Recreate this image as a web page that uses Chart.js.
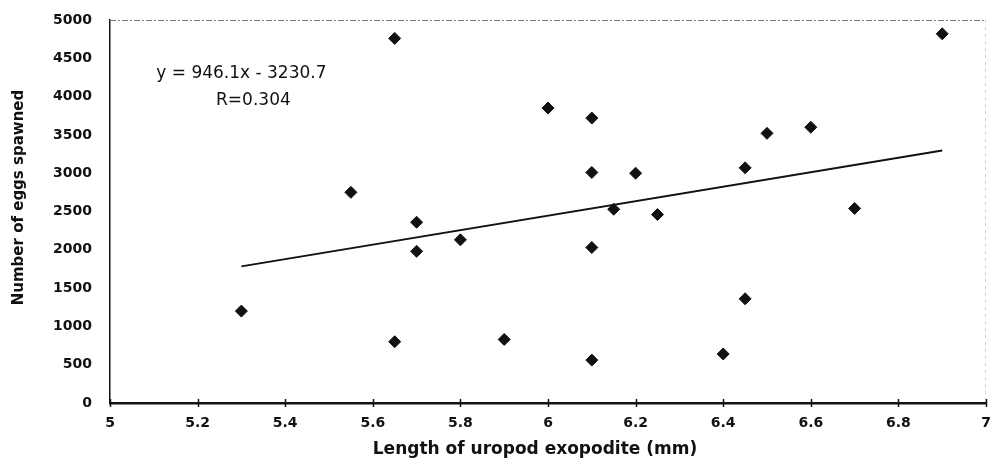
<!DOCTYPE html>
<html>
<head>
<meta charset="utf-8">
<script src="https://cdn.jsdelivr.net/npm/chart.js@4.4.1/dist/chart.umd.min.js"></script>
<style>
    html, body { margin: 0; padding: 0; background: #fff; }
    #wrap { width: 993px; height: 464px; position: relative; }
</style>
</head>
<body>
<div id="wrap"><canvas id="eggsChart"></canvas></div>
<script>
// ==================== Data ====================
const uropodLength = [5.3, 5.55, 5.65, 5.65, 5.7, 5.7, 5.8, 5.9, 6.0, 6.1, 6.1, 6.1, 6.1, 6.15, 6.2, 6.25, 6.4, 6.45, 6.45, 6.5, 6.6, 6.7, 6.9];
const eggsSpawned = [1200, 2750, 4760, 800, 2360, 1980, 2130, 830, 3850, 3720, 3010, 2030, 560, 2530, 3000, 2460, 640, 3070, 1360, 3520, 3600, 2540, 4820];

// fitted line: y = slope * x + intercept, drawn across the sampled range
const slope = 946.1;
const intercept = -3230.7;
const fitRange = [5.3, 6.9];
const equationLines = ['y = 946.1x - 3230.7', 'R=0.304'];

const xTicks = [5, 5.2, 5.4, 5.6, 5.8, 6, 6.2, 6.4, 6.6, 6.8, 7];
const xTitle = 'Length of uropod exopodite (mm)';
const yTitle = 'Number of eggs spawned';

const FONT = '"DejaVu Sans", "Liberation Sans", Arial, sans-serif';

// ==================== Plugins ====================
// box edges, crossing tick marks on the x axis, axis titles
const frame = {
    id: 'frame',
    afterDraw(chart) {
        const { ctx, chartArea: a, scales } = chart;
        ctx.save();
        ctx.strokeStyle = '#7a7a7a';
        ctx.lineWidth = 1;
        ctx.setLineDash([6, 2, 2, 2]);
        ctx.beginPath();
        ctx.moveTo(a.left, a.top + 0.5);
        ctx.lineTo(a.right, a.top + 0.5);
        ctx.stroke();
        ctx.strokeStyle = '#d0d0d0';
        ctx.setLineDash([3, 4]);
        ctx.beginPath();
        ctx.moveTo(a.right - 0.5, a.top);
        ctx.lineTo(a.right - 0.5, a.bottom);
        ctx.stroke();
        ctx.setLineDash([]);
        ctx.strokeStyle = '#111';
        ctx.lineWidth = 1.5;
        scales.x.ticks.forEach(t => {
            const px = Math.round(scales.x.getPixelForValue(t.value)) + 0.5;
            ctx.beginPath();
            ctx.moveTo(px, a.bottom - 4);
            ctx.lineTo(px, a.bottom + 4);
            ctx.stroke();
        });

        ctx.fillStyle = '#111';
        ctx.textAlign = 'center';
        ctx.textBaseline = 'middle';
        ctx.font = `bold 17px ${FONT}`;
        ctx.fillText(xTitle, (a.left + a.right) / 2 - 13, a.bottom + 47);

        ctx.font = `bold 15px ${FONT}`;
        ctx.translate(19, (a.top + a.bottom) / 2 - 14);
        ctx.rotate(-Math.PI / 2);
        ctx.fillText(yTitle, 0, 0);
        ctx.restore();
    }
};

// regression equation text
const equation = {
    id: 'equation',
    afterDraw(chart) {
        const { ctx, scales } = chart;
        const cx = scales.x.getPixelForValue(5.3);
        const cy = scales.y.getPixelForValue(4300);
        ctx.save();
        ctx.fillStyle = '#111';
        ctx.font = `17px ${FONT}`;
        ctx.textAlign = 'center';
        ctx.textBaseline = 'middle';
        ctx.fillText(equationLines[0], cx, cy);
        ctx.fillText(equationLines[1], cx + 12, cy + 27);
        ctx.restore();
    }
};

// ==================== Chart ====================
const points = uropodLength.map((x, i) => ({ x, y: eggsSpawned[i] }));
const fitLine = fitRange.map(x => ({ x, y: slope * x + intercept }));

new Chart(document.getElementById('eggsChart'), {
    type: 'scatter',
    data: {
        datasets: [
            {
                data: points,
                pointStyle: 'rectRot',
                pointRadius: 6,
                borderWidth: 1,
                backgroundColor: '#111',
                borderColor: '#111'
            },
            {
                type: 'line',
                data: fitLine,
                borderColor: '#111',
                borderWidth: 2,
                pointRadius: 0,
                fill: false
            }
        ]
    },
    options: {
        responsive: true,
        maintainAspectRatio: false,
        animation: false,
        events: [],
        layout: { padding: { left: 0, top: 20, right: 3, bottom: 0 } },
        plugins: { legend: { display: false }, tooltip: { enabled: false } },
        scales: {
            x: {
                type: 'linear',
                min: 5,
                max: 7,
                afterBuildTicks: scale => { scale.ticks = xTicks.map(v => ({ value: v })); },
                afterFit: scale => {
                    scale.height = 61;
                    scale.paddingLeft = 0;
                    scale.paddingRight = 0;
                },
                grid: { display: false },
                border: { display: true, color: '#111', width: 2.5 },
                ticks: {
                    color: '#111',
                    padding: 4,
                    callback: v => String(v),
                    font: { family: FONT, size: 14, weight: 'bold' }
                }
            },
            y: {
                min: 0,
                max: 5000,
                afterFit: scale => {
                    scale.width = 110;
                    scale.paddingTop = 0;
                    scale.paddingBottom = 0;
                },
                grid: { display: false },
                border: { display: true, color: '#111', width: 1.5 },
                ticks: {
                    stepSize: 500,
                    color: '#111',
                    padding: 10,
                    callback: v => String(v),
                    font: { family: FONT, size: 14, weight: 'bold' }
                }
            }
        }
    },
    plugins: [frame, equation]
});
</script>
</body>
</html>
